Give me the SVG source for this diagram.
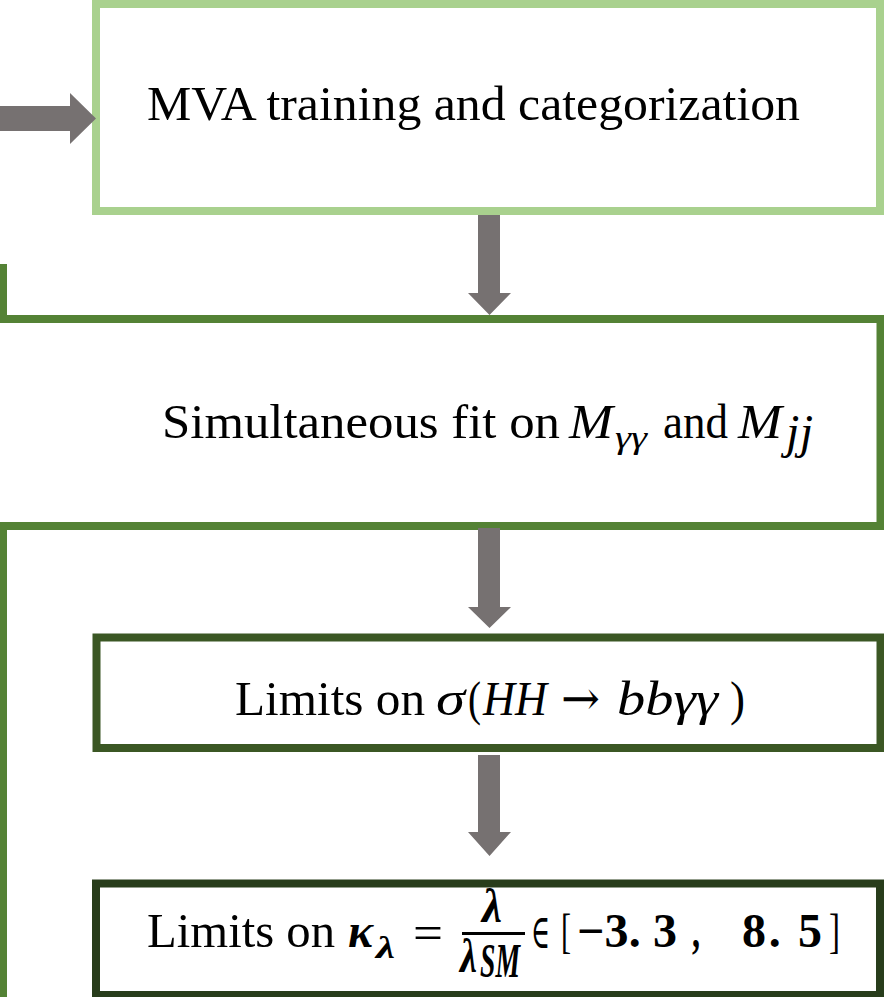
<svg xmlns="http://www.w3.org/2000/svg" width="884" height="997" viewBox="0 0 884 997">
<style>
.t{font-family:"Liberation Serif","DejaVu Serif",serif;font-size:48px;fill:#000}
.i{font-style:italic}
.b{font-weight:bold}
.s{font-size:32px}
.sym{font-family:"DejaVu Serif","Liberation Serif",serif}
.box{fill:#fff;stroke-width:8}
.arr{fill:#767171}
</style>
<rect width="884" height="997" fill="#fff"/>
<g id="frame-lines">
<rect x="0" y="264" width="7" height="59" fill="#548235"/>
<rect x="0" y="522" width="7" height="475" fill="#548235"/>
</g>
<g id="node-mva">
<rect class="box" x="96" y="4" width="784" height="207" stroke="#a9d18e"/>
<text class="t" x="147" y="120" textLength="653" lengthAdjust="spacingAndGlyphs">MVA training and categorization</text>
</g>
<g id="node-fit">
<rect class="box" x="-20" y="319" width="900.5" height="207" stroke="#548235"/>
<text class="t" x="162" y="438" textLength="398" lengthAdjust="spacingAndGlyphs">Simultaneous fit on</text>
<text class="t i" x="569" y="438" textLength="44" lengthAdjust="spacingAndGlyphs">M</text>
<text class="t i s" x="615" y="448" textLength="32" lengthAdjust="spacingAndGlyphs">γγ</text>
<text class="t" x="663" y="438" textLength="65" lengthAdjust="spacingAndGlyphs">and</text>
<text class="t i" x="738" y="438" textLength="44" lengthAdjust="spacingAndGlyphs">M</text>
<text class="t i" x="786" y="448" font-size="34" textLength="27" lengthAdjust="spacing">jj</text>
</g>
<g id="node-limits-sigma">
<rect class="box" x="96.5" y="637.5" width="784" height="110.5" stroke="#3b5724"/>
<text class="t" x="235" y="715" textLength="190" lengthAdjust="spacingAndGlyphs">Limits on</text>
<text class="t i" x="436" y="715" textLength="29" lengthAdjust="spacingAndGlyphs">σ</text>
<text class="t" x="468" y="715" textLength="13" lengthAdjust="spacingAndGlyphs">(</text>
<text class="t i" x="483" y="715" textLength="64" lengthAdjust="spacingAndGlyphs">HH</text>
<text class="t sym" x="561" y="715" textLength="39" lengthAdjust="spacingAndGlyphs">→</text>
<text class="t i" x="617" y="715" textLength="101" lengthAdjust="spacingAndGlyphs">bbγγ</text>
<text class="t" x="730" y="715" textLength="15" lengthAdjust="spacingAndGlyphs">)</text>
</g>
<g id="node-limits-kappa">
<rect class="box" x="96" y="883.5" width="784" height="111.5" stroke="#283d1b"/>
<text class="t" x="147" y="947" textLength="188" lengthAdjust="spacingAndGlyphs">Limits on</text>
<text class="t i b" x="348" y="947" textLength="25" lengthAdjust="spacingAndGlyphs">κ</text>
<text class="t i b s" x="376" y="958" textLength="19" lengthAdjust="spacingAndGlyphs">λ</text>
<text class="t" x="413" y="949" font-size="54" textLength="30" lengthAdjust="spacingAndGlyphs">=</text>
<text class="t i b" x="482" y="922" font-size="28" textLength="20" lengthAdjust="spacingAndGlyphs">λ</text>
<rect x="462" y="932" width="63" height="3" fill="#000"/>
<text class="t i b" x="460" y="972" font-size="28" textLength="17" lengthAdjust="spacingAndGlyphs">λ</text>
<text class="t i b" x="480" y="977" font-size="22" textLength="40" lengthAdjust="spacingAndGlyphs">SM</text>
<text class="t sym" x="531" y="948" font-size="46" textLength="19" lengthAdjust="spacingAndGlyphs">∈</text>
<text class="t" x="561" y="947" textLength="10" lengthAdjust="spacingAndGlyphs">[</text>
<text class="t b" x="577" y="947" textLength="100" lengthAdjust="spacing">−3. 3</text>
<text class="t b" x="692" y="947" textLength="8" lengthAdjust="spacingAndGlyphs">,</text>
<text class="t b" x="742" y="947" textLength="80" lengthAdjust="spacing">8. 5</text>
<text class="t" x="829" y="947" textLength="11" lengthAdjust="spacingAndGlyphs">]</text>
</g>
<g id="connectors">
<polygon class="arr" points="0,106 70,106 70,93 96,118.5 70,144 70,131 0,131"/>
<polygon class="arr" points="478,215 500,215 500,293 511,293 489.5,315 468,293 478,293"/>
<polygon class="arr" points="478,528 500,528 500,607 511,607 489.5,628 468,607 478,607"/>
<polygon class="arr" points="478,755 500,755 500,832 511,832 489.5,856 468,832 478,832"/>
</g>
</svg>
